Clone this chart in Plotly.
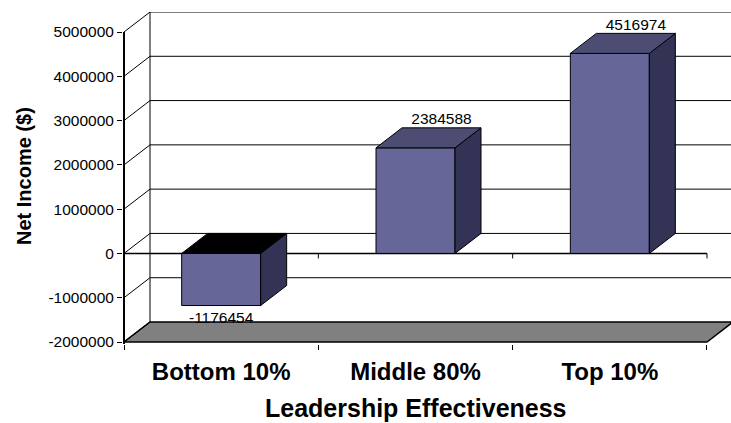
import plotly.graph_objects as go

# ---- data ----
categories = ["Bottom 10%", "Middle 80%", "Top 10%"]
net_income = [-1176454, 2384588, 4516974]
y_ticks = [-2000000, -1000000, 0, 1000000, 2000000, 3000000, 4000000, 5000000]
x_title = "Leadership Effectiveness"
y_title = "Net Income ($)"

# ---- geometry / style ----
PX_PER_CAT = 194.33          # pixels per category unit
PX_PER_VAL = 44.286 / 1e6    # pixels per value unit
DX = 26 / PX_PER_CAT         # 3-D depth offset (category units)
DY = 20 / PX_PER_VAL         # 3-D depth offset (value units)
HALF_W = 39.5 / PX_PER_CAT   # half bar width
NEG_LABEL_GAP = 6 / PX_PER_VAL
FRONT_COL = "#666699"
SIDE_COL = "#333355"
TOP_COL = "#4d4d73"
NEG_TOP_COL = "#000000"
FLOOR_COL = "#808080"
FONT = "Arial, Liberation Sans, sans-serif"

n = len(categories)
x_lo, x_hi = -0.5, n - 0.5
y_lo, y_hi = min(y_ticks), max(y_ticks)

plot_left_px, plot_right_px, plot_top_px, plot_bot_px = 123, 731, 12, 344
xr0 = x_lo - (124 - plot_left_px) / PX_PER_CAT
xr1 = xr0 + (plot_right_px - plot_left_px) / PX_PER_CAT
yr1 = y_hi + DY
yr0 = yr1 - (plot_bot_px - plot_top_px) / PX_PER_VAL

fig = go.Figure()
shapes = []
line_k = dict(color="black", width=1)

# floor
shapes.append(dict(type="path", xref="x", yref="y", layer="below",
                   path=f"M{x_lo},{y_lo} L{x_hi},{y_lo} L{x_hi+DX},{y_lo+DY} L{x_lo+DX},{y_lo+DY} Z",
                   fillcolor=FLOOR_COL, line=dict(color="black", width=1.5)))
# back wall gridlines and side wall diagonals
for v in y_ticks:
    if v != y_lo:
        shapes.append(dict(type="line", xref="x", yref="y", layer="below",
                           x0=x_lo + DX, x1=x_hi + DX, y0=v + DY, y1=v + DY, line=line_k))
    shapes.append(dict(type="line", xref="x", yref="y", layer="below",
                       x0=x_lo, x1=x_lo + DX, y0=v, y1=v + DY, line=line_k))
# back wall left edge
shapes.append(dict(type="line", xref="x", yref="y", layer="below",
                   x0=x_lo + DX, x1=x_lo + DX, y0=y_lo + DY, y1=y_hi + DY, line=line_k))
# front value axis
shapes.append(dict(type="line", xref="x", yref="y", layer="below",
                   x0=x_lo, x1=x_lo, y0=yr0, y1=y_hi, line=dict(color="black", width=2)))
# front category axis at zero with ticks
shapes.append(dict(type="line", xref="x", yref="y", layer="below",
                   x0=x_lo, x1=x_hi, y0=0, y1=0, line=dict(color="black", width=1.5)))
tick_len = 5 / PX_PER_VAL
for k in range(1, n + 1):
    xb = x_lo + k
    shapes.append(dict(type="line", xref="x", yref="y", layer="below",
                       x0=xb, x1=xb, y0=0, y1=-tick_len, line=line_k))

# bars (3-D faces)
for i, v in enumerate(net_income):
    l, r = i - HALF_W, i + HALF_W
    # front
    fig.add_trace(go.Scatter(x=[l, r, r, l, l], y=[0, 0, v, v, 0], mode="lines",
                             fill="toself", fillcolor=FRONT_COL, line=line_k,
                             hoverinfo="skip", showlegend=False))
    # side
    fig.add_trace(go.Scatter(x=[r, r + DX, r + DX, r, r], y=[0, DY, v + DY, v, 0], mode="lines",
                             fill="toself", fillcolor=SIDE_COL, line=line_k,
                             hoverinfo="skip", showlegend=False))
    # top
    top = max(v, 0)
    fig.add_trace(go.Scatter(x=[l, r, r + DX, l + DX, l], y=[top, top, top + DY, top + DY, top],
                             mode="lines", fill="toself",
                             fillcolor=TOP_COL if v >= 0 else NEG_TOP_COL, line=line_k,
                             hoverinfo="skip", showlegend=False))

# data labels
pos_x = [i + DX for i, v in enumerate(net_income) if v >= 0]
pos_y = [v + DY for v in net_income if v >= 0]
pos_t = [str(v) for v in net_income if v >= 0]
neg_x = [i for i, v in enumerate(net_income) if v < 0]
neg_y = [v - NEG_LABEL_GAP for v in net_income if v < 0]
neg_t = [str(v) for v in net_income if v < 0]
fig.add_trace(go.Scatter(x=pos_x, y=pos_y, text=pos_t, mode="text", textposition="top center",
                         textfont=dict(family=FONT, size=15.5, color="black"),
                         hoverinfo="skip", showlegend=False, cliponaxis=False))
fig.add_trace(go.Scatter(x=neg_x, y=neg_y, text=neg_t, mode="text", textposition="bottom center",
                         textfont=dict(family=FONT, size=15.5, color="black"),
                         hoverinfo="skip", showlegend=False, cliponaxis=False))

fig.update_layout(
    width=731, height=423,
    margin=dict(l=plot_left_px, r=731 - plot_right_px, t=plot_top_px, b=423 - plot_bot_px),
    paper_bgcolor="white", plot_bgcolor="white",
    shapes=shapes,
    showlegend=False,
    xaxis=dict(range=[xr0, xr1], tickmode="array", tickvals=list(range(n)),
               ticktext=[f"<b>{c}</b>" for c in categories],
               tickfont=dict(family=FONT, size=24, color="black"),
               ticks="outside", ticklen=0, ticklabelstandoff=6,
               minor=dict(tickmode="array", tickvals=[x_lo + k for k in range(n + 1)],
                          ticks="outside", ticklen=5, tickcolor="black", tickwidth=1),
               showgrid=False, zeroline=False, showline=False, fixedrange=True),
    yaxis=dict(range=[yr0, yr1], tickmode="array", tickvals=y_ticks,
               ticktext=[str(t) for t in y_ticks],
               tickfont=dict(family=FONT, size=15.5, color="black"),
               ticks="outside", ticklen=5, tickcolor="black", tickwidth=1,
               showgrid=False, zeroline=False, showline=False, fixedrange=True),
    annotations=[
        dict(text=f"<b>{y_title}</b>", xref="paper", yref="paper",
             x=(24 - plot_left_px) / (plot_right_px - plot_left_px),
             y=(plot_bot_px - 176) / (plot_bot_px - plot_top_px),
             xanchor="center", yanchor="middle", textangle=-90, showarrow=False,
             font=dict(family=FONT, size=20, color="black")),
        dict(text=f"<b>{x_title}</b>", xref="x", yref="paper", x=(n - 1) / 2,
             y=(plot_bot_px - 408) / (plot_bot_px - plot_top_px),
             xanchor="center", yanchor="middle", showarrow=False,
             font=dict(family=FONT, size=25, color="black")),
    ],
)

fig.write_html("out.html", config={"displayModeBar": False},
               post_script="document.body.style.margin='0';document.body.style.overflow='hidden';")
